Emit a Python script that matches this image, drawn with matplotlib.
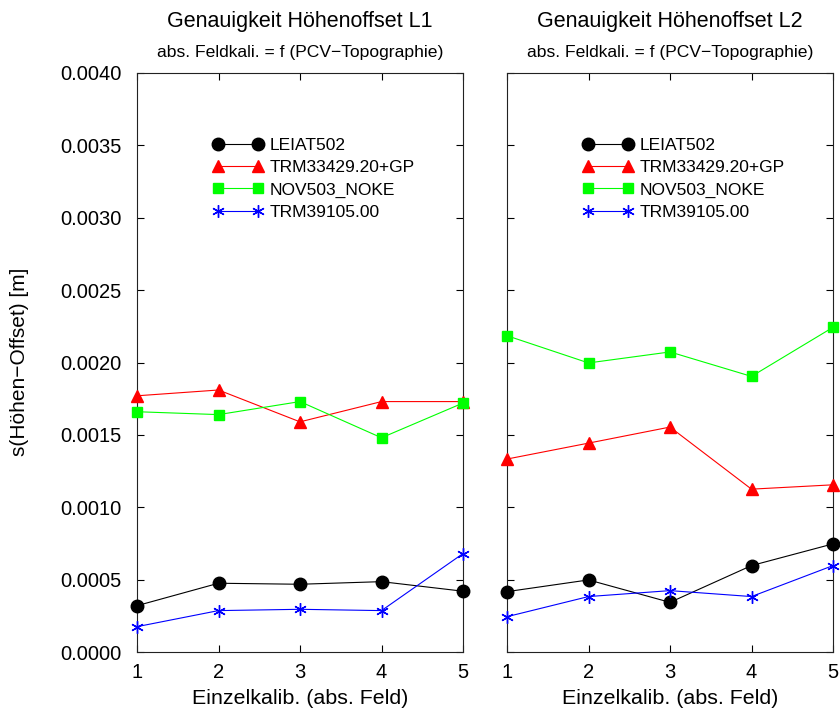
import numpy as np
import matplotlib
matplotlib.use("Agg")
import matplotlib.pyplot as plt

plt.rcParams['font.family'] = ['Liberation Sans', 'DejaVu Sans']

kalib = [1, 2, 3, 4, 5]
antennen = ['LEIAT502', 'TRM33429.20+GP', 'NOV503_NOKE', 'TRM39105.00']

# s(Hoehen-Offset) [m] je Einzelkalibrierung, L1
l1_leiat = [0.00032, 0.000475, 0.000468, 0.000486, 0.00042]
l1_trm33 = [0.00177, 0.00181, 0.00159, 0.00173, 0.00173]
l1_nov = [0.00166, 0.00164, 0.00173, 0.00148, 0.00172]
l1_trm39 = [0.000175, 0.000286, 0.000295, 0.000286, 0.00068]

# L2
l2_leiat = [0.000417, 0.000498, 0.000343, 0.000597, 0.000747]
l2_trm33 = [0.001333, 0.001443, 0.001554, 0.001125, 0.001155]
l2_nov = [0.002185, 0.001997, 0.002073, 0.001904, 0.002243]
l2_trm39 = [0.000244, 0.000383, 0.000424, 0.000383, 0.000597]

farben = ['black', '#ff0000', '#00ff00', '#0000ff']
marker = ['o', '^', 's', (6, 2, 0)]
msize = [9, 8.5, 7.5, 9]

fig = plt.figure(figsize=(8.4, 7.11), dpi=100)
ax1 = fig.add_axes([137/840, 1 - 652/711, 326/840, 579/711])
ax2 = fig.add_axes([507/840, 1 - 652/711, 326/840, 579/711])

daten = {
    ax1: [l1_leiat, l1_trm33, l1_nov, l1_trm39],
    ax2: [l2_leiat, l2_trm33, l2_nov, l2_trm39],
}
titel = {ax1: 'Genauigkeit Höhenoffset L1', ax2: 'Genauigkeit Höhenoffset L2'}

for ax in (ax1, ax2):
    for werte, name, c, m, ms in zip(daten[ax], antennen, farben, marker, msize):
        ax.plot(kalib, werte, color=c, lw=0.8, marker=m, markersize=ms,
                markeredgecolor=c, markerfacecolor=c, markeredgewidth=1.0,
                label=name, clip_on=False, zorder=5)
    ax.set_xlim(1, 5)
    ax.set_ylim(0, 0.004)
    ax.set_xticks(kalib)
    ax.set_yticks(np.arange(0, 0.00401, 0.0005))
    ax.tick_params(direction='in', length=5, width=0.8, top=True, right=True,
                   labelsize=14.5)
    ax.tick_params(axis='x', pad=8)
    ax.tick_params(axis='y', pad=11)
    for s in ax.spines.values():
        s.set_linewidth(0.8)
        s.set_color('#222222')
    ax.set_xlabel('Einzelkalib. (abs. Feld)', fontsize=15.4, labelpad=5)
    ax.text(0.5, 1.0 + 51/579, titel[ax], transform=ax.transAxes,
            ha='center', va='center', fontsize=15.5)
    ax.text(0.5, 1.0 + 21/579, 'abs. Feldkali. = f (PCV−Topographie)',
            transform=ax.transAxes, ha='center', va='center', fontsize=12.6)
    ax.legend(loc='upper left', bbox_to_anchor=(0.232, 0.888), frameon=False,
              fontsize=12.5, numpoints=2, handlelength=2.9, handletextpad=0.4,
              labelspacing=0.41, borderpad=0, borderaxespad=0)

ax1.yaxis.set_major_formatter(matplotlib.ticker.FormatStrFormatter('%.4f'))
ax2.set_yticklabels([])

fig.text(20/840, 1 - 362/711, 's(Höhen−Offset) [m]', rotation=90,
         ha='center', va='center', fontsize=15)

fig.savefig('out.png', dpi=100)
